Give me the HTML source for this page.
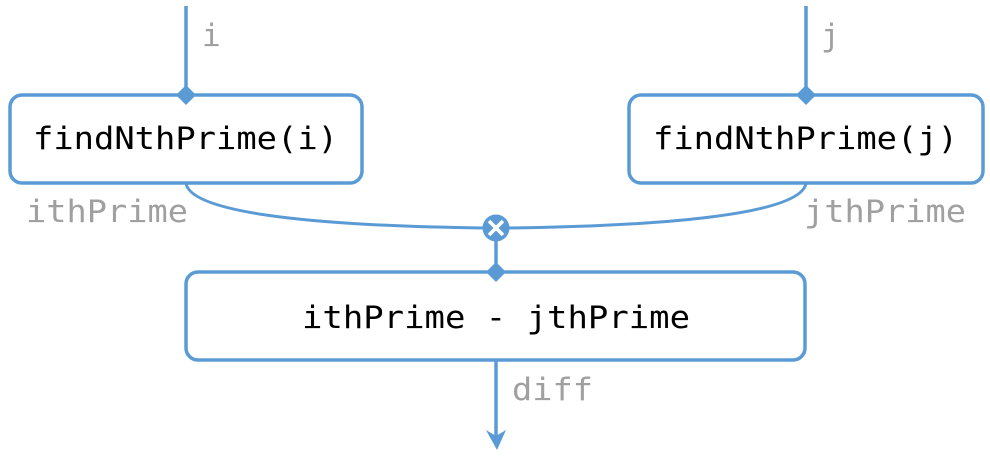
<!DOCTYPE html>
<html><head><style>html,body{margin:0;padding:0;background:#fff;}svg{display:block}</style></head>
<body>
<svg width="990" height="472" viewBox="0 0 990 472" xmlns="http://www.w3.org/2000/svg" font-family="'DejaVu Sans Mono', monospace">
<g fill="none" stroke="#5b9bd5" stroke-width="3.5">
<line x1="186" y1="6" x2="186" y2="95"/>
<line x1="806" y1="6" x2="806" y2="95"/>
<rect x="10" y="95" width="352" height="88" rx="12"/>
<rect x="629" y="95" width="354" height="88" rx="12"/>
<rect x="186" y="272" width="619" height="88" rx="12"/>
<path d="M186 183 C190 215 330 226 483 228" stroke-width="3"/>
<path d="M806 183 C802 215 660 226 509 228" stroke-width="3"/>
<line x1="496" y1="241" x2="496" y2="272"/>
<line x1="496" y1="360" x2="496" y2="440"/>
</g>
<g fill="#5b9bd5">
<path d="M186 85 L196 95 L186 105 L176 95Z"/>
<path d="M806 85 L816 95 L806 105 L796 95Z"/>
<path d="M496 262 L506 272 L496 282 L486 272Z"/>
<path d="M486 430 L496 436 L506 430 L497 450Z"/>
<circle cx="496" cy="228" r="13.5"/>
</g>
<g stroke="#fff" stroke-width="3.5"><line x1="489" y1="221" x2="503" y2="235"/><line x1="503" y1="221" x2="489" y2="235"/></g>
<g font-size="31" fill="#000">
<text x="33" y="149" textLength="305" lengthAdjust="spacingAndGlyphs">findNthPrime(i)</text>
<text x="653" y="149" textLength="305" lengthAdjust="spacingAndGlyphs">findNthPrime(j)</text>
<text x="302" y="328" textLength="388" lengthAdjust="spacingAndGlyphs">ithPrime - jthPrime</text>
</g>
<g font-size="31" fill="#a0a0a0">
<text x="202" y="46">i</text>
<text x="821" y="46">j</text>
<text x="26" y="222" textLength="162" lengthAdjust="spacingAndGlyphs">ithPrime</text>
<text x="804" y="222" textLength="162" lengthAdjust="spacingAndGlyphs">jthPrime</text>
<text x="512" y="400" textLength="81" lengthAdjust="spacingAndGlyphs">diff</text>
</g>
</svg>
</body></html>
